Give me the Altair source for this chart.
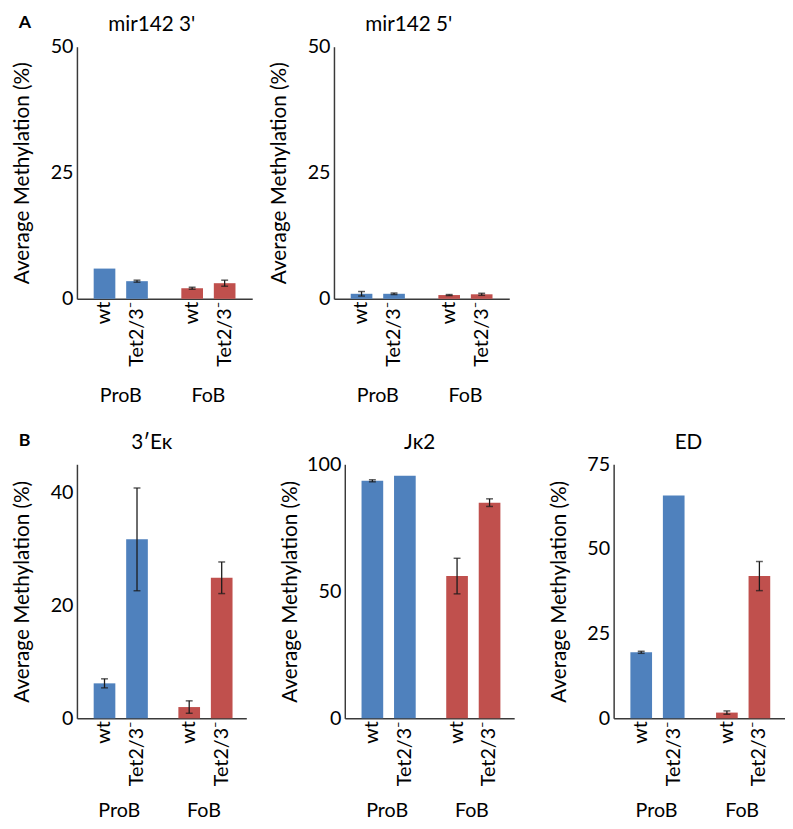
import altair as alt
import pandas as pd

groups = ["ProB", "FoB"]
genotypes = ["wt", "Tet2/3\u207b"]
panel_names = ["mir142 3'", "mir142 5'", "3\u2032E\u03ba", "J\u03ba2", "ED"]
panel_letters = ["A", None, "B", None, None]

# values in order: ProB wt, ProB Tet2/3-, FoB wt, FoB Tet2/3-
mir142_3_vals = [6.0, 3.5, 2.1, 3.1]
mir142_3_err = [None, 0.2, 0.2, 0.6]
mir142_5_vals = [1.0, 1.0, 0.75, 0.9]
mir142_5_err = [0.45, 0.15, 0.1, 0.2]
ek_vals = [6.2, 31.7, 2.0, 24.9]
ek_err = [0.8, 9.1, 1.1, 2.8]
jk2_vals = [93.5, 95.5, 56.0, 84.9]
jk2_err = [0.4, None, 7.0, 1.5]
ed_vals = [19.5, 65.8, 1.7, 42.0]
ed_err = [0.3, None, 0.5, 4.3]

y_max = [50, 50, 45, 100, 75]
y_ticks = [[0, 25, 50], [0, 25, 50], [0, 20, 40], [0, 50, 100], [0, 25, 50, 75]]

all_vals = [mir142_3_vals, mir142_5_vals, ek_vals, jk2_vals, ed_vals]
all_err = [mir142_3_err, mir142_5_err, ek_err, jk2_err, ed_err]

rows = []
for p, vals, errs in zip(panel_names, all_vals, all_err):
    i = 0
    for g in groups:
        for gt in genotypes:
            rows.append({"panel": p, "group": g, "genotype": gt,
                         "value": vals[i], "err": errs[i]})
            i += 1
df = pd.DataFrame(rows)

BLUE = "#4F81BD"
RED = "#C0504D"
AX = "#3a3a3a"
TICK_FS = 20
AXT_FS = 21


def panel(idx, W, H, lab_pad):
    name = panel_names[idx]
    letter = panel_letters[idx]
    sub = df[df["panel"] == name]
    base = alt.Chart(sub)
    label_w = 35 if y_max[idx] >= 100 else 23
    band = W / 2
    po = (band / 33 - 2 + 1 / 3) / 2
    x = alt.X("group:N", sort=groups,
              scale=alt.Scale(paddingInner=0, paddingOuter=0),
              axis=alt.Axis(title=None, labelAngle=0, ticks=False, labelPadding=lab_pad,
                            labelFontSize=TICK_FS, labelColor="black",
                            domainColor=AX, domainWidth=1.5))
    xo = alt.XOffset("genotype:N", sort=genotypes,
                     scale=alt.Scale(paddingInner=1 / 3, paddingOuter=po))
    y = alt.Y("value:Q",
              scale=alt.Scale(domain=[0, y_max[idx]], nice=False),
              axis=alt.Axis(values=y_ticks[idx], ticks=False, grid=False,
                            labelFontSize=TICK_FS, labelColor="black", labelPadding=4,
                            domainColor=AX, domainWidth=1.5,
                            title="Average Methylation (%)", titleFontSize=AXT_FS,
                            titleFontWeight="normal", titleColor="black",
                            titlePadding=45 - 4 - label_w))
    bars = base.mark_bar().encode(
        x=x, xOffset=xo, y=y,
        color=alt.Color("group:N", scale=alt.Scale(domain=groups, range=[BLUE, RED]),
                        legend=None))
    errbase = base.transform_filter("isValid(datum.err)").transform_calculate(
        lo="datum.value - datum.err", hi="datum.value + datum.err")
    rule = errbase.mark_rule(color="#1a1a1a", strokeWidth=1.3).encode(
        x=x, xOffset=xo, y="lo:Q", y2="hi:Q")
    caps = errbase.transform_fold(["lo", "hi"], as_=["end", "yv"]).mark_tick(
        color="#1a1a1a", size=7, thickness=1.5).encode(x=x, xOffset=xo, y="yv:Q")
    labels = base.mark_text(angle=270, align="right", baseline="middle",
                            fontSize=TICK_FS, color="black").encode(
        x=x, xOffset=xo, y=alt.value(H + 3), text="genotype:N")
    title = alt.Chart(pd.DataFrame({"t": [name]})).mark_text(
        fontSize=AXT_FS, align="center", baseline="middle", color="black").encode(
        text="t:N", x=alt.value(76), y=alt.value(-22))
    layers = [bars, rule, caps, labels, title]
    if letter:
        lt = alt.Chart(pd.DataFrame({"letter": [letter]})).mark_text(
            fontSize=18, fontWeight="bold", align="left", baseline="middle",
            color="black").encode(text="letter:N", x=alt.value(-59), y=alt.value(-24))
        layers.append(lt)
    return alt.layer(*layers).properties(width=W, height=H)


rowA = alt.hconcat(panel(0, 178, 256, 88), panel(1, 178, 256, 88), spacing=16)
rowB = alt.hconcat(panel(2, 172, 258, 84), panel(3, 172, 258, 84),
                   panel(4, 174, 258, 84), spacing=34)
chart = alt.vconcat(rowA, rowB, spacing=27).properties(
    padding={"left": 3, "top": 0, "right": 0, "bottom": 0}).configure(
    font="Lato").configure_view(stroke=None)

chart.save("out.html", embed_options={"renderer": "svg", "actions": False})
